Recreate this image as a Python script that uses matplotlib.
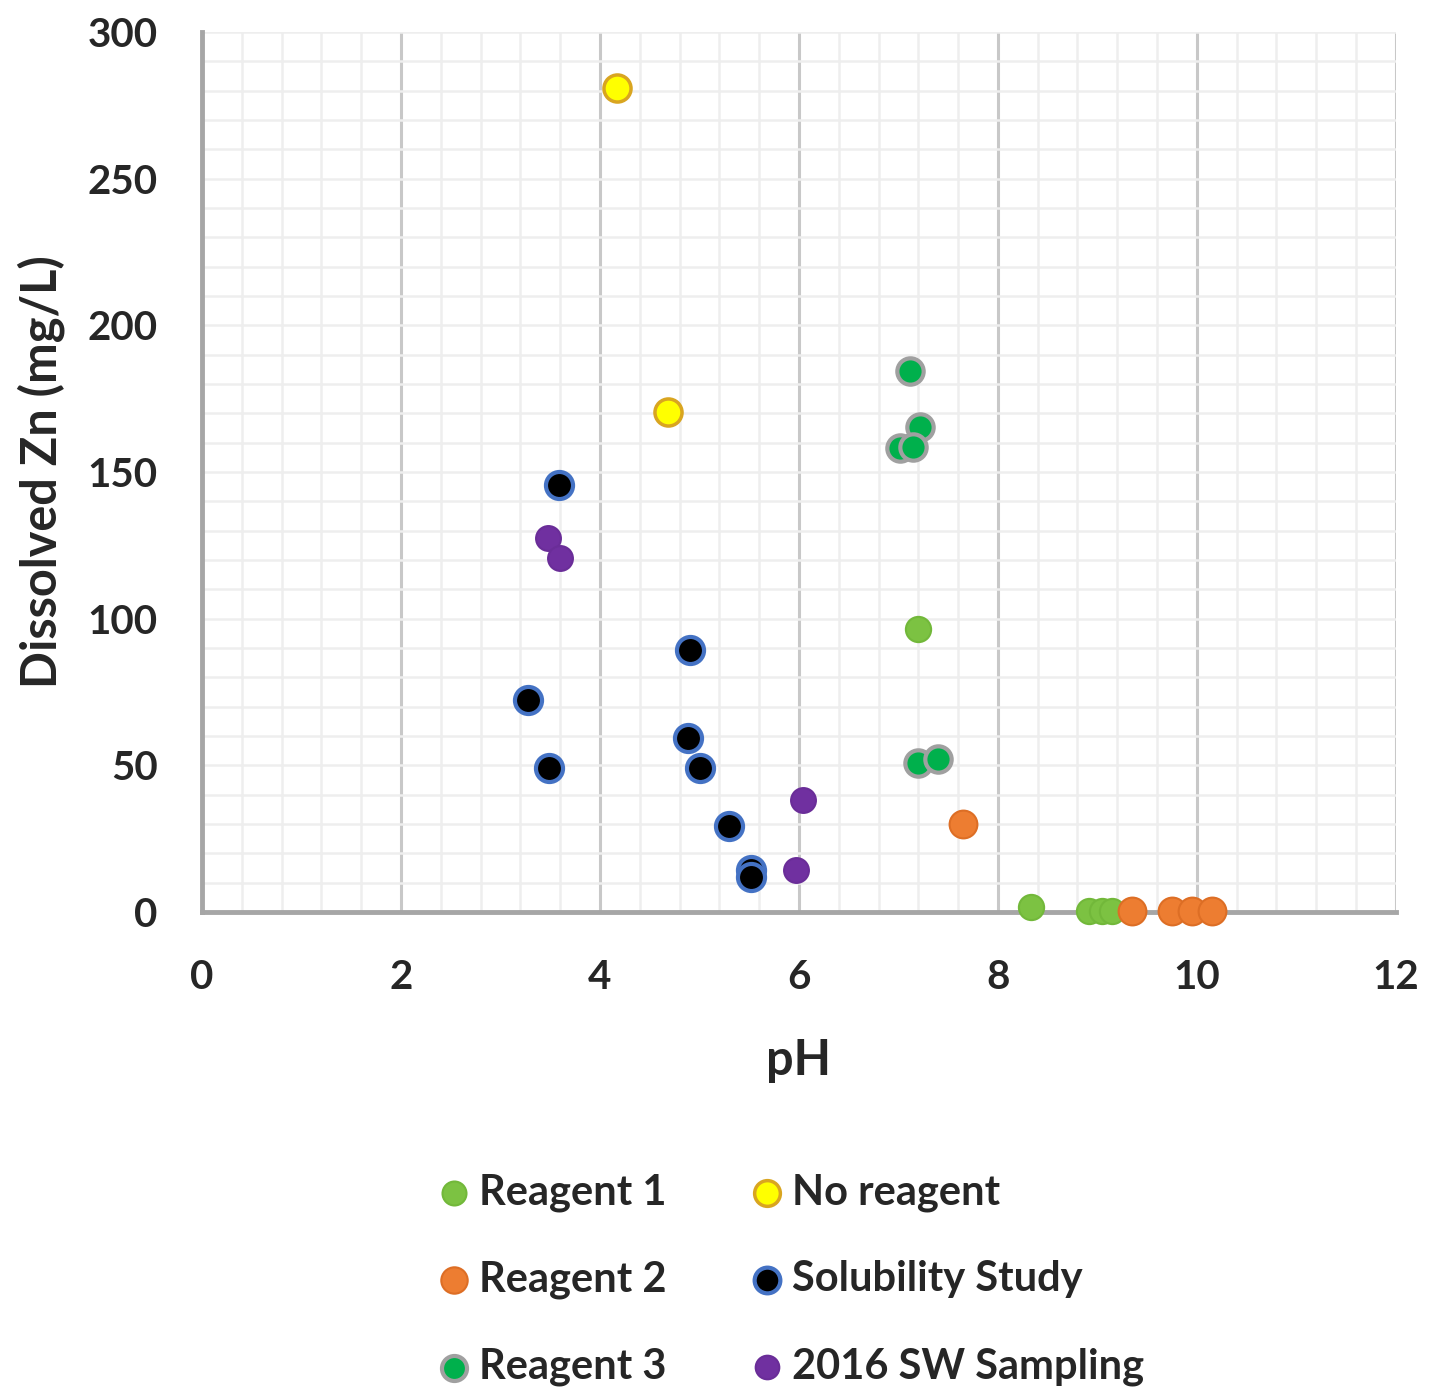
import matplotlib
matplotlib.use("Agg")
import matplotlib.pyplot as plt
from matplotlib.ticker import MultipleLocator

plt.rcParams['font.family'] = ['Lato', 'DejaVu Sans']
plt.rcParams['font.weight'] = 'bold'

# Data (pH, dissolved Zn mg/L)
r1_ph = [7.20, 8.33, 8.92, 9.05, 9.15]
r1_zn = [96.5, 1.7, 0.2, 0.2, 0.2]

r2_ph = [7.65, 9.35, 9.75, 9.95, 10.15]
r2_zn = [30.0, 0.3, 0.3, 0.3, 0.3]

r3_ph = [7.12, 7.22, 7.02, 7.15, 7.20, 7.40]
r3_zn = [184.5, 165.4, 158.2, 158.5, 50.8, 52.0]

nr_ph = [4.17, 4.68]
nr_zn = [281.0, 170.5]

sol_ph = [3.59, 3.28, 3.49, 4.90, 4.88, 5.01, 5.30, 5.52, 5.52]
sol_zn = [145.6, 72.3, 49.0, 89.3, 59.3, 49.0, 29.3, 14.3, 12.0]

sw_ph = [3.48, 3.60, 6.04, 5.97]
sw_zn = [127.5, 120.7, 38.2, 14.3]

x_ticks = [0, 2, 4, 6, 8, 10, 12]
y_ticks = [0, 50, 100, 150, 200, 250, 300]

txt = '#262626'

fig = plt.figure(figsize=(14.39, 13.90), dpi=100)
ax = fig.add_axes([0.1404, 0.3439, 0.8296, 0.6331])

ax.set_xlim(0, 12)
ax.set_ylim(0, 300)
ax.set_xticks(x_ticks)
ax.set_yticks(y_ticks)
ax.xaxis.set_minor_locator(MultipleLocator(0.4))
ax.yaxis.set_minor_locator(MultipleLocator(10))
ax.grid(which='minor', color='#eeeeee', linewidth=1.8)
ax.grid(which='major', axis='y', color='#eeeeee', linewidth=1.8)
ax.grid(which='major', axis='x', color='#c8c8c8', linewidth=2.2)
ax.set_axisbelow(True)
ax.tick_params(which='both', length=0)
ax.tick_params(axis='x', labelsize=29, pad=34, labelcolor=txt)
ax.tick_params(axis='y', labelsize=29, pad=32, labelcolor=txt)
for lab in ax.get_xticklabels() + ax.get_yticklabels():
    lab.set_fontweight('bold')

for s in ['top', 'right']:
    ax.spines[s].set_visible(False)
for s in ['left', 'bottom']:
    ax.spines[s].set_color('#a6a6a6')
    ax.spines[s].set_linewidth(3.5)

ax.set_xlabel('pH', fontsize=35, fontweight='bold', color=txt, labelpad=30)
ax.set_ylabel('Dissolved Zn (mg/L)', fontsize=35, fontweight='bold', color=txt, labelpad=16)

h1 = ax.scatter(r1_ph, r1_zn, s=330, c='#7cc242', edgecolors='#72b83a', linewidths=1.5, zorder=3, clip_on=False, label='Reagent 1')
h2 = ax.scatter(r2_ph, r2_zn, s=400, c='#ed7d31', edgecolors='#dd6e25', linewidths=1.5, zorder=4, clip_on=False, label='Reagent 2')
h3 = ax.scatter(r3_ph, r3_zn, s=360, c='#00b04c', edgecolors='#a0a0a0', linewidths=3, zorder=3, clip_on=False, label='Reagent 3')
h4 = ax.scatter(nr_ph, nr_zn, s=380, c='#ffff00', edgecolors='#d9a520', linewidths=2.5, zorder=3, clip_on=False, label='No reagent')
h5 = ax.scatter(sol_ph, sol_zn, s=380, c='#000000', edgecolors='#4472c4', linewidths=3, zorder=3, clip_on=False, label='Solubility Study')
h6 = ax.scatter(sw_ph, sw_zn, s=320, c='#7030a0', edgecolors='#6a2d98', linewidths=1.5, zorder=3, clip_on=False, label='2016 SW Sampling')

leg = fig.legend(handles=[h1, h2, h3, h4, h5, h6], ncol=2, loc='upper left',
                 bbox_to_anchor=(0.275, 0.183), frameon=False, fontsize=30,
                 handletextpad=0.1, columnspacing=1.9, labelspacing=1.17,
                 handlelength=1.0, markerscale=0.95)
for t in leg.get_texts():
    t.set_fontweight('bold')
    t.set_color(txt)

fig.savefig('out.png', dpi=100, facecolor='white')
